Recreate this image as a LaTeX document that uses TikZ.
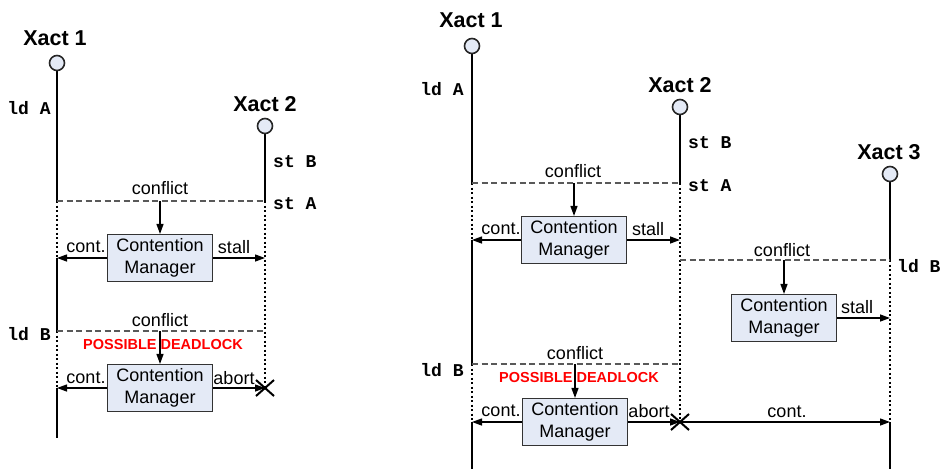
\documentclass[tikz,border=0pt]{standalone}
\usepackage{fontspec}
\setmainfont{Liberation Sans}
\setmonofont{Liberation Mono}
\usetikzlibrary{arrows.meta,calc}
\definecolor{boxfill}{HTML}{E4EAF6}
\tikzset{
 life/.style={line width=2.3pt},
 waitline/.style={line width=2.3pt, dash pattern=on 2.3pt off 2.2pt},
 confl/.style={line width=1.2pt, dash pattern=on 6pt off 3.5pt, black!65},
 msg/.style={line width=1.3pt, -{Triangle[length=10pt,width=7pt]}},
 cmbox/.style={draw=black!80, line width=1.1pt, fill=boxfill, minimum width=105pt, minimum height=47pt, align=center, font=\fontsize{18}{22}\selectfont, inner sep=0},
 head/.style={circle, draw=black!85, line width=1.6pt, fill=boxfill, minimum size=15pt, inner sep=0},
 xname/.style={font=\fontsize{21.5}{22}\selectfont\bfseries, inner sep=0},
 op/.style={font=\fontsize{18}{18}\selectfont\ttfamily\bfseries, inner sep=0},
 lbl/.style={font=\fontsize{18}{20}\selectfont, inner sep=0},
 warn/.style={font=\fontsize{14.5}{16}\selectfont\bfseries, text=red, inner sep=0},
 xmark/.style={line width=2pt}
}
\begin{document}
\begin{tikzpicture}[x=1pt,y=-1pt]
\useasboundingbox (0,0) rectangle (945,469);
% ================= LEFT =================
\coordinate (L1a) at (57,201);
\coordinate (L1b) at (57,258);
\coordinate (L1c) at (57,331);
\coordinate (L1d) at (57,388);
\coordinate (L1e) at (57,438);
\coordinate (L2a) at (265,201);
\coordinate (L2b) at (265,258);
\coordinate (L2c) at (265,331);
\coordinate (L2d) at (265,388);
\node[xname] (LX1) at (55,38) {Xact 1};
\node[xname] (LX2) at (265,104) {Xact 2};
% lifelines
\draw[life] (57,63) -- (L1a);
\draw[waitline] (L1a) -- (L1b);
\draw[life] (L1b) -- (L1c);
\draw[waitline] (L1c) -- (L1d);
\draw[life] (L1d) -- (L1e);
\draw[life] (265,126) -- (L2a);
\draw[waitline] (L2a) -- (L2d);
\node[head] (L1h) at (57,63) {};
\node[head] (L2h) at (265,126) {};
% ops
\node[op] (lldA) at (29,108) {ld A};
\node[op, anchor=west] (lstB) at (273,162) {st B};
\node[op, anchor=west] (lstA) at (273,204) {st A};
\node[op] (lldB) at (29,334) {ld B};
% conflict 1
\draw[confl] (L1a) -- (L2a);
\node[lbl] (lc1) at (160,188) {conflict};
\node[cmbox] (LB1) at (160,258) {Contention\\Manager};
\draw[msg] (LB1.north |- L1a) -- (LB1.north);
\draw[msg] (LB1.west) -- (L1b);
\draw[msg] (LB1.east) -- (L2b);
\node[lbl] (lcont1) at (86,247) {cont.};
\node[lbl] (lstall) at (234,247) {stall};
% conflict 2
\draw[confl] (L1c) -- (L2c);
\node[lbl] (lc2) at (160,320) {conflict};
\node[warn] (lwarn) at (163,345) {POSSIBLE DEADLOCK};
\node[cmbox] (LB2) at (160,388) {Contention\\Manager};
\draw[msg] (LB2.north |- L1c) -- (LB2.north);
\draw[msg] (LB2.west) -- (L1d);
\draw[msg] (LB2.east) -- (L2d);
\node[lbl] (lcont2) at (86,378) {cont.};
\node[lbl] (labort) at (234,378) {abort};
\draw[xmark] ($(L2d)+(-9,-8)$) -- ($(L2d)+(9,8)$);
\draw[xmark] ($(L2d)+(-9,8)$) -- ($(L2d)+(9,-8)$);
% ================= RIGHT =================
\coordinate (R1a) at (472,183);
\coordinate (R1b) at (472,240);
\coordinate (R1c) at (472,364);
\coordinate (R1d) at (472,422);
\coordinate (R1e) at (472,469);
\coordinate (R2a) at (680,183);
\coordinate (R2b) at (680,240);
\coordinate (R2c) at (680,260);
\coordinate (R2d) at (680,364);
\coordinate (R2e) at (680,422);
\coordinate (R3a) at (890,260);
\coordinate (R3b) at (890,318);
\coordinate (R3c) at (890,422);
\coordinate (R3e) at (890,469);
\node[xname] (RX1) at (471,20) {Xact 1};
\node[xname] (RX2) at (680,85) {Xact 2};
\node[xname] (RX3) at (889,152) {Xact 3};
\draw[life] (472,46) -- (R1a);
\draw[waitline] (R1a) -- (R1b);
\draw[life] (R1b) -- (R1c);
\draw[waitline] (R1c) -- (R1d);
\draw[life] (R1d) -- (R1e);
\draw[life] (680,107) -- (R2a);
\draw[waitline] (R2a) -- (R2e);
\draw[life] (890,174) -- (R3a);
\draw[waitline] (R3a) -- (R3c);
\draw[life] (R3c) -- (R3e);
\node[head] (R1h) at (472,46) {};
\node[head] (R2h) at (680,107) {};
\node[head] (R3h) at (890,174) {};
% ops
\node[op] (rldA) at (442,89) {ld A};
\node[op, anchor=west] (rstB) at (688,143) {st B};
\node[op, anchor=west] (rstA) at (688,186) {st A};
\node[op] (rldB) at (442,370) {ld B};
\node[op, anchor=west] (rldB3) at (897,266) {ld B};
% conflict 1
\draw[confl] (R1a) -- (R2a);
\node[lbl] (rc1) at (573,171) {conflict};
\node[cmbox] (RB1) at (574,240) {Contention\\Manager};
\draw[msg] (RB1.north |- R1a) -- (RB1.north);
\draw[msg] (RB1.west) -- (R1b);
\draw[msg] (RB1.east) -- (R2b);
\node[lbl] (rcont1) at (501,229) {cont.};
\node[lbl] (rstall1) at (648,229) {stall};
% conflict 3
\draw[confl] (R2c) -- (R3a);
\node[lbl] (rc3) at (782,250) {conflict};
\node[cmbox] (RB3) at (784,318) {Contention\\Manager};
\draw[msg] (RB3.north |- R2c) -- (RB3.north);
\draw[msg] (RB3.east) -- (R3b);
\node[lbl] (rstall3) at (857,307) {stall};
% conflict 2
\draw[confl] (R1c) -- (R2d);
\node[lbl] (rc2) at (575,353) {conflict};
\node[warn] (rwarn) at (579,378) {POSSIBLE DEADLOCK};
\node[cmbox] (RB2) at (575,422) {Contention\\Manager};
\draw[msg] (RB2.north |- R1c) -- (RB2.north);
\draw[msg] (RB2.west) -- (R1d);
\draw[msg] (RB2.east) -- (R2e);
\node[lbl] (rcont2) at (501,411) {cont.};
\node[lbl] (rabort) at (649,411) {abort};
\draw[msg] (R2e) -- (R3c);
\node[lbl] (rcont3) at (787,412) {cont.};
\draw[xmark] ($(R2e)+(-9,-8)$) -- ($(R2e)+(9,8)$);
\draw[xmark] ($(R2e)+(-9,8)$) -- ($(R2e)+(9,-8)$);
\end{tikzpicture}
\end{document}
